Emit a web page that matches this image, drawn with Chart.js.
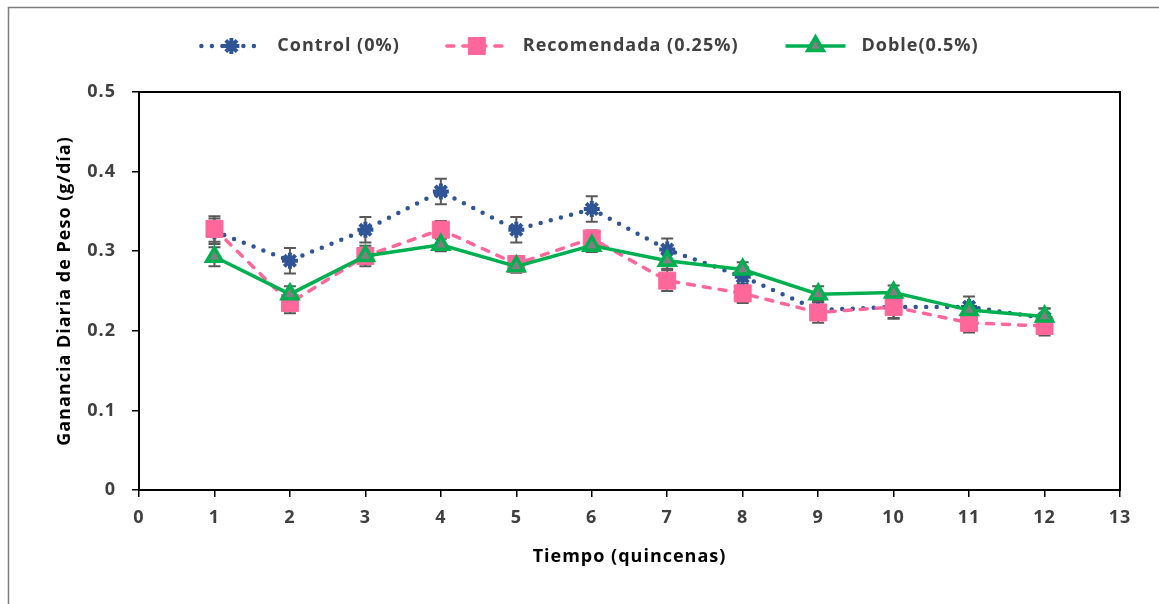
<!DOCTYPE html>
<html lang="es">
<head>
<meta charset="utf-8">
<title>Ganancia Diaria de Peso</title>
<script src="https://cdn.jsdelivr.net/npm/chart.js@4/dist/chart.umd.min.js"></script>
<style>
  html, body { margin: 0; padding: 0; background: #ffffff; }
  #wrap { width: 1159px; height: 604px; }
</style>
</head>
<body>
<div id="wrap"><canvas id="chart" width="1159" height="604"></canvas></div>
<script>
// Tiempo en quincenas
const quincenas = [1, 2, 3, 4, 5, 6, 7, 8, 9, 10, 11, 12];

// Ganancia diaria de peso (g/día) por tratamiento
const controlGdp     = [0.325, 0.288, 0.327, 0.375, 0.327, 0.353, 0.302, 0.268, 0.226, 0.230, 0.230, 0.216];
const recomendadaGdp = [0.328, 0.235, 0.294, 0.327, 0.284, 0.316, 0.263, 0.247, 0.223, 0.230, 0.210, 0.206];
const dobleGdp       = [0.293, 0.246, 0.294, 0.308, 0.281, 0.307, 0.288, 0.277, 0.246, 0.248, 0.226, 0.218];

// Error estándar de cada media
const controlEe     = [0.016, 0.016, 0.016, 0.016, 0.016, 0.016, 0.014, 0.012, 0.012, 0.014, 0.013, 0.012];
const recomendadaEe = [0.016, 0.013, 0.013, 0.011, 0.010, 0.010, 0.013, 0.012, 0.013, 0.015, 0.012, 0.012];
const dobleEe       = [0.012, 0.010, 0.010, 0.008, 0.008, 0.008, 0.010, 0.009, 0.010, 0.009, 0.010, 0.010];

const serieNombres = ['Control (0%)', 'Recomendada (0.25%)', 'Doble(0.5%)'];

const FONT = "'Open Sans', 'Noto Sans', 'Liberation Sans', sans-serif";
const AZUL = '#2F5597';
const ROSA = '#FF6699';
const VERDE = '#00B050';
const GRIS_MARCA = '#808080';
const GRIS_ERROR = '#595959';
const GRIS_TEXTO = '#404040';

function puntos(valores) {
  return quincenas.map((q, i) => ({ x: q, y: valores[i] }));
}

const datasets = [
  {
    label: serieNombres[0],
    data: puntos(controlGdp),
    errores: controlEe,
    borderColor: AZUL,
    backgroundColor: AZUL,
    borderWidth: 4.5,
    borderDash: [0, 10.5],
    borderCapStyle: 'round',
    pointStyle: 'star',
    pointRadius: 8,
    pointBorderWidth: 4,
    pointBorderColor: AZUL,
    pointBackgroundColor: AZUL,
    order: 3
  },
  {
    label: serieNombres[1],
    data: puntos(recomendadaGdp),
    errores: recomendadaEe,
    borderColor: ROSA,
    backgroundColor: ROSA,
    borderWidth: 3.5,
    borderDash: [7, 9],
    borderCapStyle: 'round',
    pointStyle: 'rect',
    pointRadius: 12,
    pointBorderWidth: 1,
    pointBorderColor: ROSA,
    pointBackgroundColor: ROSA,
    order: 2
  },
  {
    label: serieNombres[2],
    data: puntos(dobleGdp),
    errores: dobleEe,
    borderColor: VERDE,
    backgroundColor: GRIS_MARCA,
    borderWidth: 3.5,
    pointStyle: 'triangle',
    pointRadius: 9,
    pointBorderWidth: 3.5,
    pointBorderColor: VERDE,
    pointBackgroundColor: GRIS_MARCA,
    order: 1
  }
];

// Fondo, marco exterior y espaciado de letras para todos los textos
const marcoExterior = {
  id: 'marcoExterior',
  beforeDraw(chart) {
    const ctx = chart.ctx;
    ctx.letterSpacing = '1px';
    ctx.save();
    ctx.fillStyle = '#ffffff';
    ctx.fillRect(0, 0, chart.width, chart.height);
    ctx.strokeStyle = '#7f7f7f';
    ctx.lineWidth = 1.5;
    ctx.strokeRect(8.5, 7.5, chart.width + 10, chart.height + 10);
    ctx.restore();
  }
};

// Barras de error (media ± EE)
const barrasError = {
  id: 'barrasError',
  beforeDatasetsDraw(chart) {
    const ctx = chart.ctx;
    const xs = chart.scales.x, ys = chart.scales.y;
    ctx.save();
    ctx.strokeStyle = GRIS_ERROR;
    ctx.lineWidth = 2;
    chart.data.datasets.forEach(ds => {
      ds.data.forEach((p, i) => {
        const e = ds.errores[i];
        const px = xs.getPixelForValue(p.x);
        const y1 = ys.getPixelForValue(p.y + e);
        const y2 = ys.getPixelForValue(p.y - e);
        ctx.beginPath();
        ctx.moveTo(px, y1); ctx.lineTo(px, y2);
        ctx.moveTo(px - 6, y1); ctx.lineTo(px + 6, y1);
        ctx.moveTo(px - 6, y2); ctx.lineTo(px + 6, y2);
        ctx.stroke();
      });
    });
    ctx.restore();
  }
};

// Recuadro del área de trazado
const recuadro = {
  id: 'recuadro',
  afterDraw(chart) {
    const a = chart.chartArea;
    const ctx = chart.ctx;
    ctx.save();
    ctx.strokeStyle = '#000000';
    ctx.lineWidth = 2;
    ctx.strokeRect(a.left, a.top, a.right - a.left, a.bottom - a.top);
    ctx.restore();
  }
};

function marca(ctx, ds, x, y) {
  ctx.save();
  ctx.setLineDash([]);
  ctx.fillStyle = ds.pointBackgroundColor;
  ctx.strokeStyle = ds.pointBorderColor;
  ctx.lineWidth = ds.pointBorderWidth;
  Chart.helpers.drawPoint(ctx, {
    pointStyle: ds.pointStyle,
    radius: ds.pointRadius,
    borderWidth: ds.pointBorderWidth,
    rotation: 0
  }, x, y);
  ctx.restore();
}

// Leyenda: muestra de línea con marcador y nombre de la serie
const leyenda = {
  id: 'leyenda',
  afterDraw(chart) {
    const ctx = chart.ctx;
    const muestra = 64, sep = 14, hueco = 45, yc = 46, centro = 589;
    ctx.save();
    ctx.letterSpacing = '1px';
    ctx.font = 'bold 18px ' + FONT;
    const anchos = chart.data.datasets.map(ds => ctx.measureText(ds.label).width);
    const total = anchos.reduce((s, w) => s + muestra + sep + w, 0) + hueco * (anchos.length - 1);
    let x = centro - total / 2;
    chart.data.datasets.forEach((ds, i) => {
      ctx.save();
      ctx.strokeStyle = ds.borderColor;
      ctx.lineWidth = ds.borderWidth;
      ctx.lineCap = ds.borderCapStyle || 'butt';
      ctx.setLineDash(ds.borderDash || []);
      ctx.beginPath();
      ctx.moveTo(x + 2, yc);
      ctx.lineTo(x + muestra - 2, yc);
      ctx.stroke();
      ctx.restore();
      marca(ctx, ds, x + muestra / 2, yc);
      ctx.fillStyle = GRIS_TEXTO;
      ctx.textAlign = 'left';
      ctx.textBaseline = 'middle';
      ctx.font = 'bold 18px ' + FONT;
      ctx.fillText(ds.label, x + muestra + sep, yc);
      x += muestra + sep + anchos[i] + hueco;
    });
    ctx.restore();
  }
};

new Chart(document.getElementById('chart'), {
  type: 'line',
  data: { datasets },
  plugins: [marcoExterior, barrasError, recuadro, leyenda],
  options: {
    responsive: false,
    animation: false,
    devicePixelRatio: 1,
    layout: { padding: { top: 92, right: 39, left: 0, bottom: 0 } },
    elements: { line: { tension: 0, fill: false } },
    plugins: {
      legend: { display: false },
      tooltip: { enabled: false }
    },
    scales: {
      x: {
        type: 'linear',
        min: 0,
        max: 13,
        afterFit(scale) { scale.height = 114; },
        ticks: {
          stepSize: 1,
          padding: 10,
          color: GRIS_TEXTO,
          font: { family: FONT, size: 18, weight: 'bold' }
        },
        grid: {
          drawOnChartArea: false,
          drawTicks: true,
          tickLength: 7,
          color: '#000000',
          lineWidth: 1.5
        },
        border: { display: false },
        title: {
          display: true,
          text: 'Tiempo (quincenas)',
          color: '#000000',
          padding: { top: 0, bottom: 36 },
          font: { family: FONT, size: 18, weight: 'bold', lineHeight: 1.2 }
        }
      },
      y: {
        min: 0,
        max: 0.5,
        afterFit(scale) { scale.width = 139; },
        ticks: {
          stepSize: 0.1,
          padding: 16,
          color: GRIS_TEXTO,
          font: { family: FONT, size: 18, weight: 'bold' }
        },
        grid: {
          drawOnChartArea: false,
          drawTicks: true,
          tickLength: 7,
          color: '#000000',
          lineWidth: 1.5
        },
        border: { display: false },
        title: {
          display: true,
          text: 'Ganancia Diaria de Peso (g/día)',
          color: '#000000',
          padding: { top: 54, bottom: 0 },
          font: { family: FONT, size: 18, weight: 'bold', lineHeight: 1.2 }
        }
      }
    }
  }
});
</script>
</body>
</html>
